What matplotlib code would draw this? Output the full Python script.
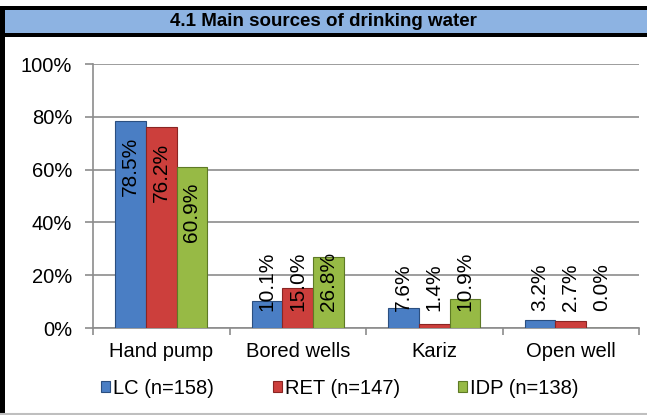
import numpy as np
import matplotlib
matplotlib.use("Agg")
import matplotlib.pyplot as plt
from matplotlib.patches import Rectangle
from matplotlib.lines import Line2D

plt.rcParams['font.family'] = ['Liberation Sans', 'DejaVu Sans']

# data
categories = ['Hand pump', 'Bored wells', 'Kariz', 'Open well']
series = ['LC (n=158)', 'RET (n=147)', 'IDP (n=138)']
lc = [78.5, 10.1, 7.6, 3.2]
ret = [76.2, 15.0, 1.4, 2.7]
idp = [60.9, 26.8, 10.9, 0.0]
title = '4.1 Main sources of drinking water'

colors = ['#4A7EC4', '#CC3F3C', '#97BA45']
edges = ['#2B4F80', '#8A2523', '#5E7A25']

fig = plt.figure(figsize=(6.47, 4.15), dpi=100)
W, H = 647, 415

# frame and title band
fig.patches.append(Rectangle((0, 1 - 36 / H), 1, 28 / H, transform=fig.transFigure,
                             facecolor='#8DB3E2', edgecolor='none', zorder=0))
for y0, y1 in [(6, 10), (33, 37)]:
    fig.patches.append(Rectangle((0, 1 - y1 / H), 1, (y1 - y0) / H, transform=fig.transFigure,
                                 facecolor='black', edgecolor='none', zorder=1))
fig.patches.append(Rectangle((0, 0), 5 / W, 1 - 6 / H, transform=fig.transFigure,
                             facecolor='black', edgecolor='none', zorder=1))
fig.lines.append(Line2D([0, 1], [1.5 / H, 1.5 / H], transform=fig.transFigure,
                        color='#BFBFBF', lw=1.5))
fig.text(0.5, 1 - 22 / H, title, ha='center', va='center', fontsize=13.5, fontweight='bold')

ax = fig.add_axes([93 / W, 1 - 328 / H, (639 - 93) / W, (328 - 64) / H])
x = np.arange(len(categories))
w = 0.225
for i, (vals, name) in enumerate(zip([lc, ret, idp], series)):
    pos = x + (i - 1) * w
    ax.bar(pos, vals, w, color=colors[i], edgecolor=edges[i], linewidth=0.8,
           label=name, zorder=3)
    for p, v in zip(pos, vals):
        # long bars: label inside the top; short bars: label stands on a fixed base
        if v > 40:
            ax.text(p, v - 6.0, f'{v:.1f}%', rotation=90, ha='center', va='top',
                    fontsize=15, zorder=4)
        else:
            ax.text(p, 6.4, f'{v:.1f}%', rotation=90, ha='center', va='bottom',
                    fontsize=15, zorder=4)

ax.set_xlim(-0.5, 3.5)
ax.set_ylim(0, 100)
ax.set_yticks(np.arange(0, 101, 20))
ax.set_yticklabels([f'{t}%' for t in range(0, 101, 20)], fontsize=14.5)
ax.yaxis.grid(True, color='#8C8C8C', lw=1.2, zorder=0)
ax.set_xticks(x)
ax.set_xticklabels(categories, fontsize=14.5)
ax.set_xticks(np.arange(-0.5, 4, 1), minor=True)
ax.tick_params(axis='x', which='major', length=0, pad=10)
ax.tick_params(axis='x', which='minor', length=5, color='#8C8C8C', width=1.2)
ax.tick_params(axis='y', length=6, color='#8C8C8C', width=1.2, pad=9)
for s in ['top', 'right']:
    ax.spines[s].set_visible(False)
for s in ['left', 'bottom']:
    ax.spines[s].set_color('#8C8C8C')
    ax.spines[s].set_linewidth(1.2)

fig.legend(loc='center', bbox_to_anchor=(340 / W, 1 - 388 / H), ncol=3, frameon=False,
           fontsize=14.5, handlelength=0.45, handleheight=0.45, handletextpad=0.15,
           columnspacing=2.9, borderpad=0)

fig.savefig('out.png', dpi=100)
